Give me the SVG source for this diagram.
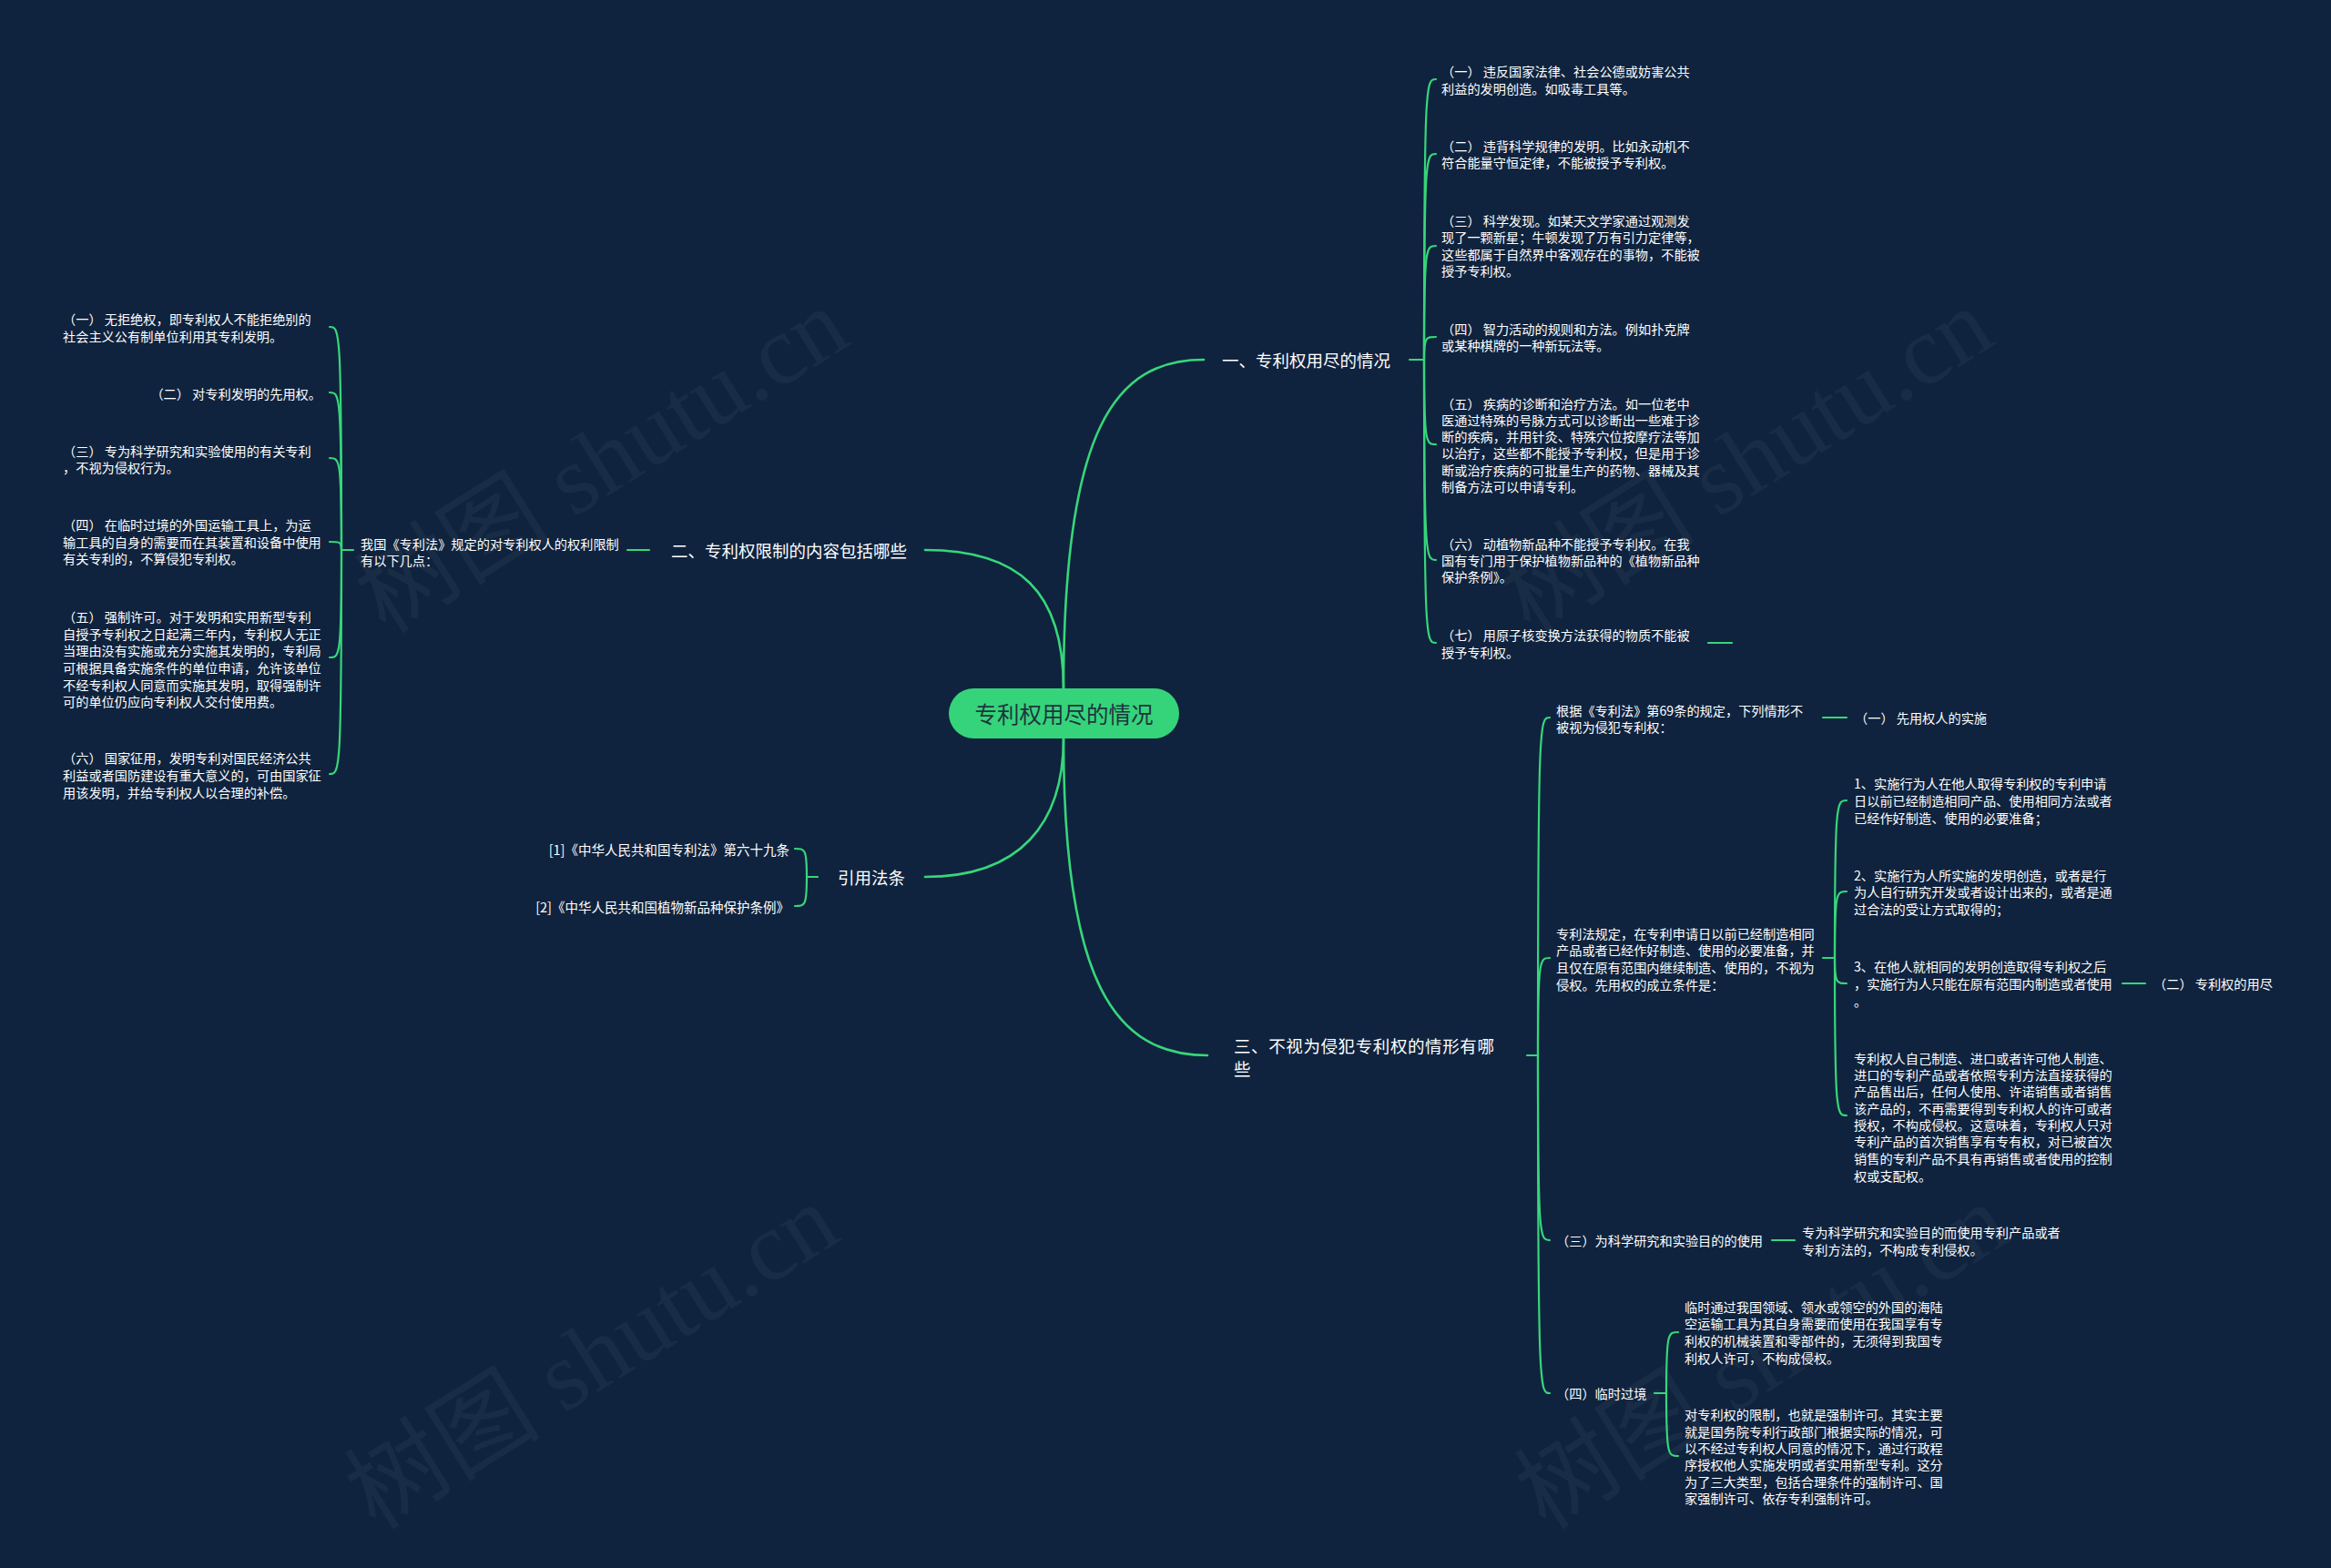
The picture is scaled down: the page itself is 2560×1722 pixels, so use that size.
<svg xmlns="http://www.w3.org/2000/svg" width="2560" height="1722" viewBox="0 0 2560 1722">
<style>
text{font-family:"Noto Sans CJK SC","Noto Sans",sans-serif;fill:#ffffff;dominant-baseline:central}
.s{font-size:14.2px}
.c{font-size:14.5px}
.b{font-size:18.5px}
.root{font-size:24.5px;fill:#1e3540}
.wm{font-family:"Liberation Serif","Noto Sans CJK SC",serif;font-size:108px;fill:#ffffff;fill-opacity:0.045}
.ln{fill:none;stroke:#37d67a;stroke-width:2.2;stroke-linecap:round}
.rl{fill:none;stroke:#37d67a;stroke-width:2.6;stroke-linecap:round}
</style>
<rect x="0" y="0" width="2560" height="1722" fill="#0f233e"/>
<g id="watermark">
<text class="wm" x="661" y="506" text-anchor="middle" transform="rotate(-32 661 506)">树图 shutu.cn</text>
<text class="wm" x="1918" y="506" text-anchor="middle" transform="rotate(-32 1918 506)">树图 shutu.cn</text>
<text class="wm" x="650" y="1490" text-anchor="middle" transform="rotate(-32 650 1490)">树图 shutu.cn</text>
<text class="wm" x="1935" y="1490" text-anchor="middle" transform="rotate(-32 1935 1490)">树图 shutu.cn</text>
</g>
<g id="connectors">
<path class="rl" d="M1168,756 C1168,470 1225,395 1322,395"/>
<path class="rl" d="M1168,756 C1168,650 1120,604 1016,604"/>
<path class="rl" d="M1168,811 C1168,905 1120,963 1016,963"/>
<path class="rl" d="M1168,811 C1168,1080 1225,1159 1326,1159"/>
<path class="ln" d="M1548,395 L1564,395"/>
<path class="ln" d="M1564,395 C1564,87 1566,87 1577,87"/>
<path class="ln" d="M1564,395 C1564,169 1566,169 1577,169"/>
<path class="ln" d="M1564,395 C1564,270 1566,270 1577,270"/>
<path class="ln" d="M1564,395 C1564,370 1566,370 1577,370"/>
<path class="ln" d="M1564,395 C1564,488 1566,488 1577,488"/>
<path class="ln" d="M1564,395 C1564,615 1566,615 1577,615"/>
<path class="ln" d="M1564,395 C1564,706 1566,706 1577,706"/>
<path class="ln" d="M1876,706 L1902,706"/>
<path class="ln" d="M713,604 L689,604"/>
<path class="ln" d="M388,604 L375,604"/>
<path class="ln" d="M375,604 C375,359 373,359 362,359"/>
<path class="ln" d="M375,604 C375,431 373,431 362,431"/>
<path class="ln" d="M375,604 C375,503 373,503 362,503"/>
<path class="ln" d="M375,604 C375,595 373,595 362,595"/>
<path class="ln" d="M375,604 C375,722 373,722 362,722"/>
<path class="ln" d="M375,604 C375,850 373,850 362,850"/>
<path class="ln" d="M898,963 L886,963"/>
<path class="ln" d="M886,963 C886,932 884,932 873,932"/>
<path class="ln" d="M886,963 C886,995 884,995 873,995"/>
<path class="ln" d="M1677,1159 L1689,1159"/>
<path class="ln" d="M1689,1159 C1689,788 1691,788 1702,788"/>
<path class="ln" d="M1689,1159 C1689,1052 1691,1052 1702,1052"/>
<path class="ln" d="M1689,1159 C1689,1362 1691,1362 1702,1362"/>
<path class="ln" d="M1689,1159 C1689,1530 1691,1530 1702,1530"/>
<path class="ln" d="M2002,788 L2028,788"/>
<path class="ln" d="M2002,1052 L2015,1052"/>
<path class="ln" d="M2015,1052 C2015,879 2017,879 2028,879"/>
<path class="ln" d="M2015,1052 C2015,979 2017,979 2028,979"/>
<path class="ln" d="M2015,1052 C2015,1080 2017,1080 2028,1080"/>
<path class="ln" d="M2015,1052 C2015,1225 2017,1225 2028,1225"/>
<path class="ln" d="M2331,1080 L2356,1080"/>
<path class="ln" d="M1946,1362 L1971,1362"/>
<path class="ln" d="M1817,1530 L1830,1530"/>
<path class="ln" d="M1830,1530 C1830,1463 1832,1463 1843,1463"/>
<path class="ln" d="M1830,1530 C1830,1599 1832,1599 1843,1599"/>
</g>
<g id="root">
<rect x="1042" y="756" width="253" height="55" rx="27.5" fill="#35d47a"/>
<text class="root" x="1168.5" y="783.5" text-anchor="middle">专利权用尽的情况</text>
</g>
<g id="b1"><text class="b" x="1342" y="395">一、专利权用尽的情况</text></g>
<g id="b1-1"><text class="s" x="1583"><tspan x="1583" y="78">（一） 违反国家法律、社会公德或妨害公共</tspan><tspan x="1583" y="97">利益的发明创造。如吸毒工具等。</tspan></text></g>
<g id="b1-2"><text class="s" x="1583"><tspan x="1583" y="160">（二） 违背科学规律的发明。比如永动机不</tspan><tspan x="1583" y="178">符合能量守恒定律，不能被授予专利权。</tspan></text></g>
<g id="b1-3"><text class="s" x="1583"><tspan x="1583" y="242">（三） 科学发现。如某天文学家通过观测发</tspan><tspan x="1583" y="260">现了一颗新星；牛顿发现了万有引力定律等，</tspan><tspan x="1583" y="279">这些都属于自然界中客观存在的事物，不能被</tspan><tspan x="1583" y="297">授予专利权。</tspan></text></g>
<g id="b1-4"><text class="s" x="1583"><tspan x="1583" y="361">（四） 智力活动的规则和方法。例如扑克牌</tspan><tspan x="1583" y="379">或某种棋牌的一种新玩法等。</tspan></text></g>
<g id="b1-5"><text class="s" x="1583"><tspan x="1583" y="443">（五） 疾病的诊断和治疗方法。如一位老中</tspan><tspan x="1583" y="461">医通过特殊的号脉方式可以诊断出一些难于诊</tspan><tspan x="1583" y="479">断的疾病，并用针灸、特殊穴位按摩疗法等加</tspan><tspan x="1583" y="497">以治疗，这些都不能授予专利权，但是用于诊</tspan><tspan x="1583" y="516">断或治疗疾病的可批量生产的药物、器械及其</tspan><tspan x="1583" y="534">制备方法可以申请专利。</tspan></text></g>
<g id="b1-6"><text class="s" x="1583"><tspan x="1583" y="597">（六） 动植物新品种不能授予专利权。在我</tspan><tspan x="1583" y="615">国有专门用于保护植物新品种的《植物新品种</tspan><tspan x="1583" y="633">保护条例》。</tspan></text></g>
<g id="b1-7"><text class="s" x="1583"><tspan x="1583" y="697">（七） 用原子核变换方法获得的物质不能被</tspan><tspan x="1583" y="716">授予专利权。</tspan></text></g>
<g id="b2"><text class="b" x="737" y="604">二、专利权限制的内容包括哪些</text></g>
<g id="b2-0"><text class="s" x="396"><tspan x="396" y="597">我国《专利法》规定的对专利权人的权利限制</tspan><tspan x="396" y="615">有以下几点：</tspan></text></g>
<g id="b2-1"><text class="s" x="69"><tspan x="69" y="350">（一） 无拒绝权，即专利权人不能拒绝别的</tspan><tspan x="69" y="369">社会主义公有制单位利用其专利发明。</tspan></text></g>
<g id="b2-2"><text class="s" x="353" y="432" text-anchor="end">（二） 对专利发明的先用权。</text></g>
<g id="b2-3"><text class="s" x="69"><tspan x="69" y="495">（三） 专为科学研究和实验使用的有关专利</tspan><tspan x="69" y="513">，不视为侵权行为。</tspan></text></g>
<g id="b2-4"><text class="s" x="69"><tspan x="69" y="576">（四） 在临时过境的外国运输工具上，为运</tspan><tspan x="69" y="595">输工具的自身的需要而在其装置和设备中使用</tspan><tspan x="69" y="613">有关专利的，不算侵犯专利权。</tspan></text></g>
<g id="b2-5"><text class="s" x="69"><tspan x="69" y="677">（五） 强制许可。对于发明和实用新型专利</tspan><tspan x="69" y="696">自授予专利权之日起满三年内，专利权人无正</tspan><tspan x="69" y="714">当理由没有实施或充分实施其发明的，专利局</tspan><tspan x="69" y="733">可根据具备实施条件的单位申请，允许该单位</tspan><tspan x="69" y="752">不经专利权人同意而实施其发明，取得强制许</tspan><tspan x="69" y="770">可的单位仍应向专利权人交付使用费。</tspan></text></g>
<g id="b2-6"><text class="s" x="69"><tspan x="69" y="832">（六） 国家征用，发明专利对国民经济公共</tspan><tspan x="69" y="851">利益或者国防建设有重大意义的，可由国家征</tspan><tspan x="69" y="870">用该发明，并给专利权人以合理的补偿。</tspan></text></g>
<g id="b4"><text class="b" x="920" y="963">引用法条</text></g>
<g id="b4-1"><text class="c" x="867" y="932" text-anchor="end">[1]《中华人民共和国专利法》第六十九条</text></g>
<g id="b4-2"><text class="c" x="867" y="995" text-anchor="end">[2]《中华人民共和国植物新品种保护条例》</text></g>
<g id="b3"><text class="b" x="1355" style="letter-spacing:0.6px"><tspan x="1355" y="1148">三、不视为侵犯专利权的情形有哪</tspan><tspan x="1355" y="1173">些</tspan></text></g>
<g id="b3-a"><text class="s" x="1709"><tspan x="1709" y="780">根据《专利法》第69条的规定，下列情形不</tspan><tspan x="1709" y="798">被视为侵犯专利权：</tspan></text></g>
<g id="b3-a1"><text class="s" x="2037" y="788">（一） 先用权人的实施</text></g>
<g id="b3-b"><text class="s" x="1709"><tspan x="1709" y="1025">专利法规定，在专利申请日以前已经制造相同</tspan><tspan x="1709" y="1043">产品或者已经作好制造、使用的必要准备，并</tspan><tspan x="1709" y="1062">且仅在原有范围内继续制造、使用的，不视为</tspan><tspan x="1709" y="1081">侵权。先用权的成立条件是：</tspan></text></g>
<g id="b3-b1"><text class="s" x="2036"><tspan x="2036" y="860">1、实施行为人在他人取得专利权的专利申请</tspan><tspan x="2036" y="879">日以前已经制造相同产品、使用相同方法或者</tspan><tspan x="2036" y="898">已经作好制造、使用的必要准备；</tspan></text></g>
<g id="b3-b2"><text class="s" x="2036"><tspan x="2036" y="961">2、实施行为人所实施的发明创造，或者是行</tspan><tspan x="2036" y="979">为人自行研究开发或者设计出来的，或者是通</tspan><tspan x="2036" y="998">过合法的受让方式取得的；</tspan></text></g>
<g id="b3-b3"><text class="s" x="2036"><tspan x="2036" y="1061">3、在他人就相同的发明创造取得专利权之后</tspan><tspan x="2036" y="1080">，实施行为人只能在原有范围内制造或者使用</tspan><tspan x="2036" y="1099">。</tspan></text></g>
<g id="b3-b3a"><text class="s" x="2365" y="1080">（二） 专利权的用尽</text></g>
<g id="b3-b4"><text class="s" x="2036"><tspan x="2036" y="1162">专利权人自己制造、进口或者许可他人制造、</tspan><tspan x="2036" y="1180">进口的专利产品或者依照专利方法直接获得的</tspan><tspan x="2036" y="1198">产品售出后，任何人使用、许诺销售或者销售</tspan><tspan x="2036" y="1217">该产品的，不再需要得到专利权人的许可或者</tspan><tspan x="2036" y="1235">授权，不构成侵权。这意味着，专利权人只对</tspan><tspan x="2036" y="1253">专利产品的首次销售享有专有权，对已被首次</tspan><tspan x="2036" y="1272">销售的专利产品不具有再销售或者使用的控制</tspan><tspan x="2036" y="1291">权或支配权。</tspan></text></g>
<g id="b3-c"><text class="s" x="1709" y="1362">（三）为科学研究和实验目的的使用</text></g>
<g id="b3-c1"><text class="s" x="1979"><tspan x="1979" y="1353">专为科学研究和实验目的而使用专利产品或者</tspan><tspan x="1979" y="1372">专利方法的，不构成专利侵权。</tspan></text></g>
<g id="b3-d"><text class="s" x="1709" y="1530">（四）临时过境</text></g>
<g id="b3-d1"><text class="s" x="1850"><tspan x="1850" y="1435">临时通过我国领域、领水或领空的外国的海陆</tspan><tspan x="1850" y="1453">空运输工具为其自身需要而使用在我国享有专</tspan><tspan x="1850" y="1472">利权的机械装置和零部件的，无须得到我国专</tspan><tspan x="1850" y="1491">利权人许可，不构成侵权。</tspan></text></g>
<g id="b3-d2"><text class="s" x="1850"><tspan x="1850" y="1553">对专利权的限制，也就是强制许可。其实主要</tspan><tspan x="1850" y="1572">就是国务院专利行政部门根据实际的情况，可</tspan><tspan x="1850" y="1590">以不经过专利权人同意的情况下，通过行政程</tspan><tspan x="1850" y="1608">序授权他人实施发明或者实用新型专利。这分</tspan><tspan x="1850" y="1627">为了三大类型，包括合理条件的强制许可、国</tspan><tspan x="1850" y="1645">家强制许可、依存专利强制许可。</tspan></text></g>
</svg>
